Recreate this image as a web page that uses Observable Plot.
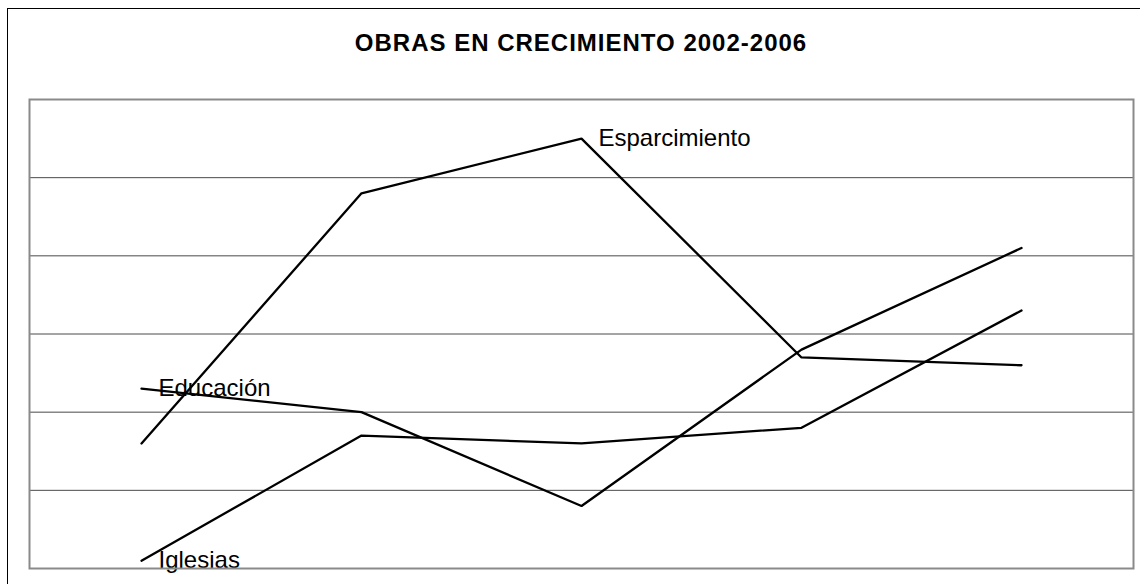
<!DOCTYPE html>
<html>
<head>
<meta charset="utf-8">
<script src="https://cdn.jsdelivr.net/npm/d3@7"></script>
<script src="https://cdn.jsdelivr.net/npm/@observablehq/plot@0.6"></script>
<style>
  html, body { margin: 0; padding: 0; background: #fff; }
  #wrap { position: relative; width: 1140px; height: 584px; overflow: hidden; font-family: "Liberation Sans", Arial, sans-serif; }
  #outer { position: absolute; left: 7px; top: 8px; width: 1200px; height: 700px; border-left: 1.5px solid #000; border-top: 1.5px solid #000; }
  #chart { position: absolute; left: 0; top: 0; }
  #title { position: absolute; left: 0; width: 1162px; top: 31px; text-align: center; font-size: 24px; line-height: 24px; letter-spacing: 1px; font-weight: bold; color: #000; z-index: 2; }
</style>
</head>
<body>
<div id="wrap">
  <div id="outer"></div>
  <div id="chart"></div>
  <div id="title">OBRAS EN CRECIMIENTO 2002-2006</div>
</div>
<script>
const years = ["2002", "2003", "2004", "2005", "2006"];
const esparcimiento = [16, 48, 55, 27, 26];
const educacion = [23, 20, 8, 28, 41];
const iglesias = [1, 17, 16, 18, 33];
const gridTicks = [10, 20, 30, 40, 50];

const seriesList = [
  {name: "Esparcimiento", values: esparcimiento, labelIndex: 2},
  {name: "Educación", values: educacion, labelIndex: 0},
  {name: "Iglesias", values: iglesias, labelIndex: 0}
];

const rows = seriesList.flatMap(s => years.map((y, i) => ({serie: s.name, year: y, value: s.values[i]})));
const labels = seriesList.map(s => ({serie: s.name, year: years[s.labelIndex], value: s.values[s.labelIndex]}));

const chart = Plot.plot({
  width: 1140,
  height: 584,
  marginLeft: 29,
  marginRight: 7,
  marginTop: 99,
  marginBottom: 16,
  style: {background: "transparent", fontFamily: "'Liberation Sans', Arial, sans-serif"},
  x: {type: "point", domain: years, padding: 0.5, axis: null},
  y: {domain: [0, 60], axis: null},
  marks: [
    Plot.ruleY(gridTicks, {stroke: "#4a4a4a", strokeWidth: 1}),
    Plot.line(rows, {x: "year", y: "value", z: "serie", stroke: "#000", strokeWidth: 2.3, strokeLinejoin: "miter"}),
    Plot.text(labels, {x: "year", y: "value", text: "serie", textAnchor: "start", dx: 17, fontSize: 24, fill: "#000"}),
    Plot.frame({stroke: "#8a8a8a", strokeWidth: 2})
  ]
});
document.getElementById("chart").appendChild(chart);
</script>
</body>
</html>
